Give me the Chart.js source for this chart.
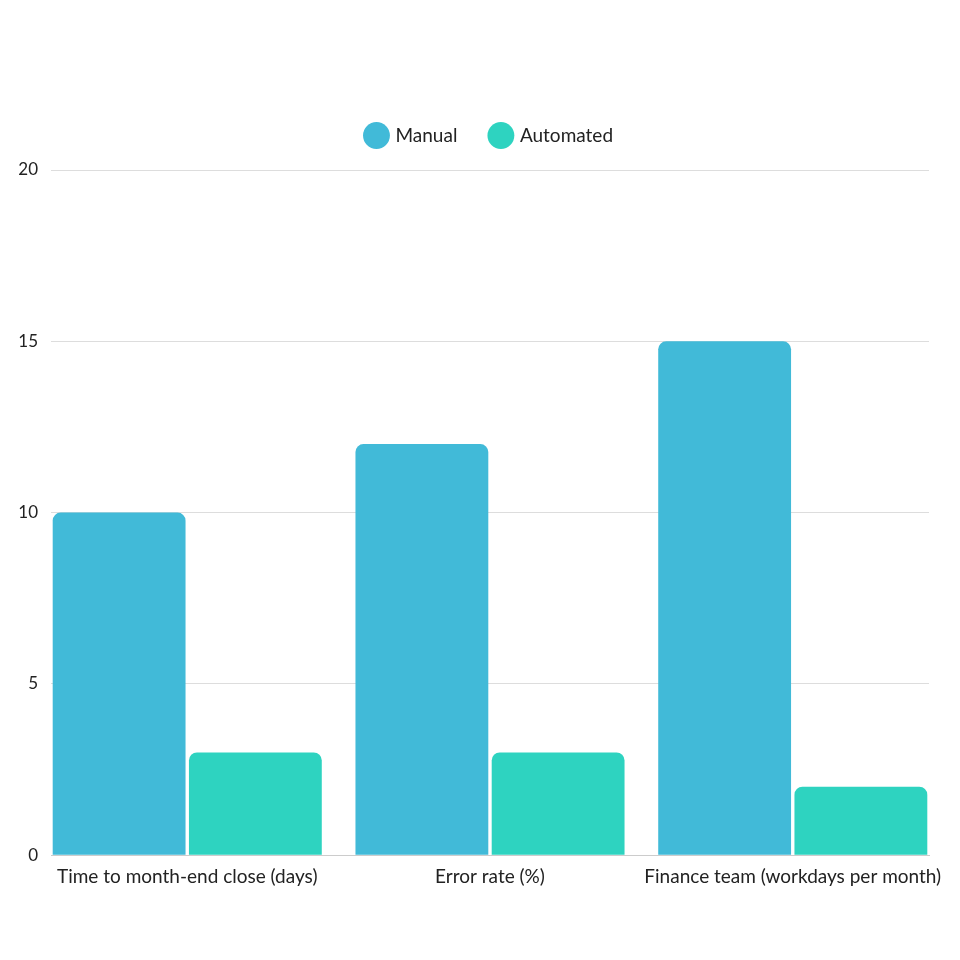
<!DOCTYPE html>
<html>
<head>
<meta charset="utf-8">
<script src="https://cdn.jsdelivr.net/npm/chart.js@4/dist/chart.umd.min.js"></script>
<style>
  html, body { margin: 0; padding: 0; background: #fff; }
  #wrap { width: 960px; height: 960px; }
</style>
</head>
<body>
<div id="wrap"><canvas id="c"></canvas></div>
<script>
const categories = ["Time to month-end close (days)", "Error rate (%)", "Finance team (workdays per month)"];
const manual = [10, 12, 15];
const automated = [3, 3, 2];
const yTicks = [0, 5, 10, 15, 20];

Chart.defaults.font.family = "Lato, 'Noto Sans', sans-serif";
Chart.defaults.color = "#222";

const toPoints = (arr) => arr.map((v, i) => ({ x: i, y: v }));

// extra room below the legend, and centre it over the plot area
const legendGap = {
  id: "legendGap",
  beforeInit(chart) {
    const fit = chart.legend.fit;
    chart.legend.fit = function () {
      fit.call(this);
      this.height += 15;
    };
  },
  afterLayout(chart) {
    const lg = chart.legend;
    const shift = (chart.chartArea.left + chart.chartArea.right) / 2 - (lg.left + lg.right) / 2;
    lg.left += shift;
    lg.right += shift;
  },
};

new Chart(document.getElementById("c"), {
  type: "bar",
  data: {
    datasets: [
      {
        label: "Manual",
        data: toPoints(manual),
        backgroundColor: "#41bad8",
        borderRadius: 8,
        borderSkipped: "start",
        categoryPercentage: 0.9,
        barPercentage: 0.975,
      },
      {
        label: "Automated",
        data: toPoints(automated),
        backgroundColor: "#2ed3c0",
        borderRadius: 8,
        borderSkipped: "start",
        categoryPercentage: 0.9,
        barPercentage: 0.975,
      },
    ],
  },
  plugins: [legendGap],
  options: {
    responsive: true,
    maintainAspectRatio: false,
    animation: false,
    layout: { padding: { top: 92, right: 31, bottom: 62, left: 0 } },
    plugins: {
      legend: {
        position: "top",
        labels: {
          usePointStyle: true,
          pointStyle: "circle",
          boxWidth: 21,
          boxHeight: 21,
          padding: 34,
          font: { size: 19 },
          color: "#222",
        },
      },
      tooltip: { enabled: false },
    },
    scales: {
      x: {
        type: "linear",
        offset: false,
        min: -0.45,
        max: 2.45,
        grid: { display: false, drawTicks: false, offset: false },
        border: { display: true, color: "#cccccc" },
        afterBuildTicks: (scale) => {
          scale.ticks = categories.map((_, i) => ({ value: i }));
        },
        ticks: {
          padding: 10,
          autoSkip: false,
          maxRotation: 0,
          font: { size: 19 },
          color: "#222",
          callback: (v) => categories[v] ?? "",
        },
      },
      y: {
        min: 0,
        max: 20,
        afterBuildTicks: (scale) => {
          scale.ticks = yTicks.map((v) => ({ value: v }));
        },
        afterFit: (scale) => {
          scale.width = 51;
        },
        grid: { color: "#dddddd", drawTicks: false },
        border: { display: false },
        ticks: {
          padding: 13,
          font: { size: 17 },
          color: "#222",
        },
      },
    },
  },
});
</script>
</body>
</html>
